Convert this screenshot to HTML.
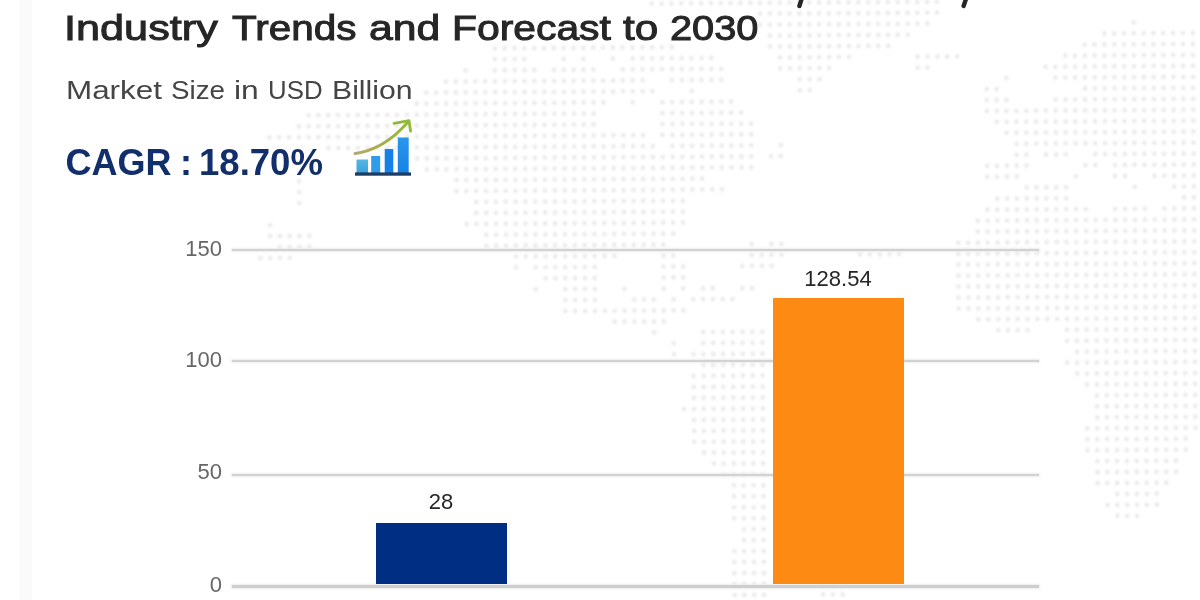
<!DOCTYPE html>
<html><head><meta charset="utf-8">
<style>
html,body{margin:0;padding:0;width:1200px;height:600px;overflow:hidden;background:#fff;}
body{position:relative;font-family:"Liberation Sans",sans-serif;}
#map{position:absolute;left:0;top:0;filter:blur(1px);}
#strip{position:absolute;left:19px;top:0;width:13px;height:600px;background:#fafafa;}
.abs{position:absolute;white-space:nowrap;}
.tw{position:absolute;white-space:nowrap;top:7.6px;font-size:35.6px;color:#262626;-webkit-text-stroke:1px #262626;transform-origin:0 0;}
.sw{position:absolute;white-space:nowrap;top:75px;font-size:26.5px;color:#454545;transform-origin:0 0;}
.cw{position:absolute;white-space:nowrap;top:142px;font-size:36px;font-weight:bold;color:#132f6b;transform-origin:0 0;}
.grid{position:absolute;left:232px;width:807px;height:2px;background:#d2d2d2;box-shadow:0 0 2px 1px #ececec;}
.ylab{position:absolute;width:40px;text-align:right;font-size:22px;color:#666666;}
.bar{position:absolute;}
.dlab{position:absolute;font-size:22px;color:#262626;text-align:center;}
#icon{position:absolute;left:340px;top:110px;}
#desc{position:absolute;left:0;top:0;}
#c{position:absolute;left:0;top:0;width:1200px;height:600px;filter:blur(0.5px);}
</style></head>
<body>
<div id="strip"></div>
<svg id="map" width="1200" height="600" viewBox="0 0 1200 600"><path d="M651.8 3.5h.01M661.7 3.5h.01M671.5 3.4h.01M681.3 3.3h.01M691.2 3.3h.01M701.0 3.2h.01M710.8 3.1h.01M720.7 3.1h.01M730.5 3.0h.01M740.3 3.0h.01M750.2 2.9h.01M760.0 2.8h.01M769.8 2.8h.01M779.6 2.7h.01M789.5 2.6h.01M799.3 2.6h.01M809.1 2.5h.01M819.0 2.5h.01M828.8 2.4h.01M838.6 2.3h.01M848.5 2.3h.01M858.3 2.2h.01M868.1 2.1h.01M877.9 2.1h.01M887.8 2.0h.01M897.6 2.0h.01M907.4 1.9h.01M917.3 1.8h.01M927.1 1.8h.01M936.9 1.7h.01M760.1 13.8h.01M769.9 13.7h.01M779.7 13.7h.01M789.5 13.6h.01M799.4 13.5h.01M809.2 13.5h.01M819.0 13.4h.01M828.9 13.4h.01M838.7 13.3h.01M848.5 13.2h.01M858.4 13.2h.01M868.2 13.1h.01M878.0 13.0h.01M887.9 13.0h.01M897.7 12.9h.01M907.5 12.9h.01M917.3 12.8h.01M927.2 12.7h.01M937.0 12.7h.01M760.1 24.8h.01M770.0 24.7h.01M779.8 24.6h.01M789.6 24.6h.01M799.5 24.5h.01M809.3 24.4h.01M819.1 24.4h.01M828.9 24.3h.01M838.8 24.3h.01M848.6 24.2h.01M858.4 24.1h.01M868.3 24.1h.01M878.1 24.0h.01M887.9 24.0h.01M897.8 23.9h.01M907.6 23.8h.01M917.4 23.8h.01M927.3 23.7h.01M1133.7 22.4h.01M770.0 35.7h.01M779.9 35.6h.01M789.7 35.5h.01M799.5 35.5h.01M809.4 35.4h.01M819.2 35.4h.01M829.0 35.3h.01M838.9 35.2h.01M848.7 35.2h.01M858.5 35.1h.01M868.3 35.0h.01M878.2 35.0h.01M888.0 34.9h.01M897.8 34.9h.01M907.7 34.8h.01M1104.3 33.5h.01M1114.1 33.5h.01M1123.9 33.4h.01M1133.8 33.4h.01M1143.6 33.3h.01M1153.4 33.2h.01M1163.3 33.2h.01M1173.1 33.1h.01M1182.9 33.1h.01M1192.8 33.0h.01M1202.6 32.9h.01M494.9 48.4h.01M504.7 48.3h.01M514.5 48.2h.01M524.4 48.2h.01M534.2 48.1h.01M544.0 48.1h.01M553.8 48.0h.01M563.7 47.9h.01M573.5 47.9h.01M583.3 47.8h.01M593.2 47.7h.01M603.0 47.7h.01M612.8 47.6h.01M622.7 47.6h.01M632.5 47.5h.01M642.3 47.4h.01M652.1 47.4h.01M662.0 47.3h.01M671.8 47.2h.01M770.1 46.6h.01M779.9 46.6h.01M789.8 46.5h.01M799.6 46.4h.01M809.4 46.4h.01M819.3 46.3h.01M829.1 46.3h.01M838.9 46.2h.01M848.8 46.1h.01M858.6 46.1h.01M868.4 46.0h.01M878.2 45.9h.01M888.1 45.9h.01M1084.7 44.6h.01M1094.5 44.6h.01M1104.4 44.5h.01M1114.2 44.5h.01M1124.0 44.4h.01M1133.8 44.3h.01M1143.7 44.3h.01M1153.5 44.2h.01M1163.3 44.1h.01M1173.2 44.1h.01M1183.0 44.0h.01M1192.8 44.0h.01M1202.7 43.9h.01M494.9 59.3h.01M504.8 59.3h.01M514.6 59.2h.01M524.4 59.1h.01M563.7 58.9h.01M583.4 58.8h.01M612.9 58.6h.01M632.6 58.5h.01M642.4 58.4h.01M652.2 58.3h.01M662.1 58.3h.01M671.9 58.2h.01M681.7 58.2h.01M691.5 58.1h.01M701.4 58.0h.01M711.2 58.0h.01M780.0 57.5h.01M789.9 57.5h.01M799.7 57.4h.01M809.5 57.3h.01M819.3 57.3h.01M829.2 57.2h.01M839.0 57.2h.01M848.8 57.1h.01M917.6 56.7h.01M927.5 56.6h.01M937.3 56.5h.01M947.1 56.5h.01M957.0 56.4h.01M1065.1 55.7h.01M1074.9 55.7h.01M1084.8 55.6h.01M1094.6 55.5h.01M1104.4 55.5h.01M1114.3 55.4h.01M1124.1 55.4h.01M1133.9 55.3h.01M1143.7 55.2h.01M1153.6 55.2h.01M1163.4 55.1h.01M1173.2 55.0h.01M1183.1 55.0h.01M1192.9 54.9h.01M1202.7 54.9h.01M465.5 70.5h.01M495.0 70.3h.01M504.8 70.2h.01M514.7 70.2h.01M524.5 70.1h.01M534.3 70.0h.01M554.0 69.9h.01M563.8 69.9h.01M573.7 69.8h.01M583.5 69.7h.01M593.3 69.7h.01M622.8 69.5h.01M632.6 69.4h.01M642.5 69.4h.01M652.3 69.3h.01M662.1 69.2h.01M672.0 69.2h.01M681.8 69.1h.01M691.6 69.1h.01M701.5 69.0h.01M711.3 68.9h.01M721.1 68.9h.01M780.1 68.5h.01M789.9 68.4h.01M799.8 68.4h.01M809.6 68.3h.01M819.4 68.2h.01M829.2 68.2h.01M917.7 67.6h.01M927.6 67.6h.01M1045.5 66.8h.01M1055.3 66.8h.01M1065.2 66.7h.01M1075.0 66.6h.01M1084.8 66.6h.01M1094.7 66.5h.01M1104.5 66.4h.01M1114.3 66.4h.01M1124.2 66.3h.01M1134.0 66.3h.01M1143.8 66.2h.01M1153.7 66.1h.01M1163.5 66.1h.01M1173.3 66.0h.01M1183.1 65.9h.01M1193.0 65.9h.01M1202.8 65.8h.01M445.9 81.6h.01M455.8 81.5h.01M465.6 81.4h.01M475.4 81.4h.01M485.3 81.3h.01M495.1 81.3h.01M504.9 81.2h.01M514.7 81.1h.01M524.6 81.1h.01M534.4 81.0h.01M544.2 80.9h.01M554.1 80.9h.01M563.9 80.8h.01M573.7 80.8h.01M583.6 80.7h.01M593.4 80.6h.01M603.2 80.6h.01M613.1 80.5h.01M622.9 80.5h.01M632.7 80.4h.01M642.5 80.3h.01M672.0 80.1h.01M681.9 80.1h.01M691.7 80.0h.01M701.5 80.0h.01M711.4 79.9h.01M721.2 79.8h.01M799.8 79.3h.01M809.7 79.3h.01M819.5 79.2h.01M1006.3 78.0h.01M1055.4 77.7h.01M1065.3 77.7h.01M1075.1 77.6h.01M1084.9 77.5h.01M1094.7 77.5h.01M1104.6 77.4h.01M1114.4 77.3h.01M1124.2 77.3h.01M1134.1 77.2h.01M1143.9 77.2h.01M1153.7 77.1h.01M1163.6 77.0h.01M1173.4 77.0h.01M1183.2 76.9h.01M1193.1 76.8h.01M1202.9 76.8h.01M426.3 92.7h.01M436.2 92.6h.01M446.0 92.5h.01M455.8 92.5h.01M465.7 92.4h.01M475.5 92.3h.01M485.3 92.3h.01M495.2 92.2h.01M505.0 92.2h.01M514.8 92.1h.01M524.7 92.0h.01M534.5 92.0h.01M544.3 91.9h.01M554.1 91.9h.01M564.0 91.8h.01M573.8 91.7h.01M583.6 91.7h.01M593.5 91.6h.01M603.3 91.5h.01M613.1 91.5h.01M623.0 91.4h.01M632.8 91.4h.01M642.6 91.3h.01M652.4 91.2h.01M691.8 91.0h.01M799.9 90.3h.01M809.7 90.2h.01M986.7 89.1h.01M996.5 89.1h.01M1085.0 88.5h.01M1094.8 88.4h.01M1104.7 88.4h.01M1114.5 88.3h.01M1124.3 88.2h.01M1134.1 88.2h.01M1144.0 88.1h.01M1153.8 88.1h.01M1163.6 88.0h.01M1173.5 87.9h.01M1183.3 87.9h.01M1193.1 87.8h.01M1203.0 87.8h.01M416.6 103.7h.01M426.4 103.6h.01M436.3 103.6h.01M446.1 103.5h.01M455.9 103.4h.01M465.7 103.4h.01M475.6 103.3h.01M485.4 103.3h.01M495.2 103.2h.01M505.1 103.1h.01M514.9 103.1h.01M524.7 103.0h.01M534.6 102.9h.01M544.4 102.9h.01M554.2 102.8h.01M564.0 102.8h.01M573.9 102.7h.01M583.7 102.6h.01M593.5 102.6h.01M603.4 102.5h.01M632.9 102.3h.01M662.4 102.1h.01M672.2 102.1h.01M682.0 102.0h.01M691.8 101.9h.01M701.7 101.9h.01M711.5 101.8h.01M721.3 101.8h.01M731.2 101.7h.01M986.8 100.1h.01M996.6 100.0h.01M1006.4 100.0h.01M1055.6 99.6h.01M1065.4 99.6h.01M1075.2 99.5h.01M1085.1 99.5h.01M1094.9 99.4h.01M1104.7 99.3h.01M1114.6 99.3h.01M1124.4 99.2h.01M1134.2 99.2h.01M1144.0 99.1h.01M1153.9 99.0h.01M1163.7 99.0h.01M1173.5 98.9h.01M1183.4 98.8h.01M1193.2 98.8h.01M308.5 115.3h.01M318.4 115.3h.01M328.2 115.2h.01M338.0 115.1h.01M347.9 115.1h.01M357.7 115.0h.01M367.5 115.0h.01M377.3 114.9h.01M387.2 114.8h.01M397.0 114.8h.01M406.8 114.7h.01M416.7 114.7h.01M426.5 114.6h.01M436.3 114.5h.01M446.2 114.5h.01M456.0 114.4h.01M465.8 114.3h.01M475.7 114.3h.01M485.5 114.2h.01M495.3 114.2h.01M505.1 114.1h.01M515.0 114.0h.01M524.8 114.0h.01M534.6 113.9h.01M544.5 113.8h.01M554.3 113.8h.01M564.1 113.7h.01M574.0 113.7h.01M583.8 113.6h.01M593.6 113.5h.01M662.4 113.1h.01M672.3 113.0h.01M682.1 113.0h.01M691.9 112.9h.01M701.8 112.8h.01M711.6 112.8h.01M721.4 112.7h.01M731.2 112.7h.01M741.1 112.6h.01M986.8 111.0h.01M996.7 111.0h.01M1006.5 110.9h.01M1016.3 110.9h.01M1026.2 110.8h.01M1036.0 110.7h.01M1045.8 110.7h.01M1055.7 110.6h.01M1065.5 110.6h.01M1075.3 110.5h.01M1085.1 110.4h.01M1095.0 110.4h.01M1104.8 110.3h.01M1114.6 110.2h.01M1124.5 110.2h.01M1134.3 110.1h.01M1144.1 110.1h.01M1154.0 110.0h.01M1163.8 109.9h.01M1173.6 109.9h.01M1183.4 109.8h.01M1193.3 109.7h.01M298.8 126.4h.01M308.6 126.3h.01M318.4 126.2h.01M328.3 126.2h.01M338.1 126.1h.01M347.9 126.1h.01M357.8 126.0h.01M367.6 125.9h.01M377.4 125.9h.01M387.3 125.8h.01M397.1 125.7h.01M406.9 125.7h.01M416.7 125.6h.01M426.6 125.6h.01M436.4 125.5h.01M446.2 125.4h.01M456.1 125.4h.01M465.9 125.3h.01M475.7 125.2h.01M485.6 125.2h.01M495.4 125.1h.01M505.2 125.1h.01M515.0 125.0h.01M524.9 124.9h.01M534.7 124.9h.01M544.5 124.8h.01M554.4 124.7h.01M564.2 124.7h.01M574.0 124.6h.01M583.9 124.6h.01M593.7 124.5h.01M662.5 124.1h.01M672.3 124.0h.01M682.2 123.9h.01M692.0 123.9h.01M701.8 123.8h.01M711.7 123.8h.01M721.5 123.7h.01M731.3 123.6h.01M741.1 123.6h.01M751.0 123.5h.01M996.7 121.9h.01M1006.6 121.9h.01M1016.4 121.8h.01M1026.2 121.8h.01M1036.1 121.7h.01M1045.9 121.6h.01M1055.7 121.6h.01M1065.6 121.5h.01M1075.4 121.5h.01M1085.2 121.4h.01M1095.0 121.3h.01M1104.9 121.3h.01M1114.7 121.2h.01M1124.5 121.1h.01M1134.4 121.1h.01M1144.2 121.0h.01M1154.0 121.0h.01M1163.9 120.9h.01M1173.7 120.8h.01M1183.5 120.8h.01M1193.4 120.7h.01M269.4 137.5h.01M279.2 137.4h.01M289.0 137.4h.01M298.9 137.3h.01M308.7 137.3h.01M318.5 137.2h.01M328.3 137.1h.01M338.2 137.1h.01M348.0 137.0h.01M357.8 137.0h.01M367.7 136.9h.01M377.5 136.8h.01M387.3 136.8h.01M397.2 136.7h.01M407.0 136.6h.01M416.8 136.6h.01M426.6 136.5h.01M436.5 136.5h.01M446.3 136.4h.01M456.1 136.3h.01M466.0 136.3h.01M475.8 136.2h.01M485.6 136.1h.01M495.5 136.1h.01M505.3 136.0h.01M515.1 136.0h.01M525.0 135.9h.01M534.8 135.8h.01M544.6 135.8h.01M554.4 135.7h.01M564.3 135.6h.01M574.1 135.6h.01M583.9 135.5h.01M593.8 135.5h.01M603.6 135.4h.01M613.4 135.3h.01M623.3 135.3h.01M633.1 135.2h.01M642.9 135.2h.01M662.6 135.0h.01M672.4 135.0h.01M682.2 134.9h.01M692.1 134.8h.01M701.9 134.8h.01M711.7 134.7h.01M721.6 134.7h.01M731.4 134.6h.01M741.2 134.5h.01M751.1 134.5h.01M1006.6 132.9h.01M1016.5 132.8h.01M1026.3 132.7h.01M1036.1 132.7h.01M1046.0 132.6h.01M1055.8 132.5h.01M1065.6 132.5h.01M1075.5 132.4h.01M1085.3 132.4h.01M1095.1 132.3h.01M1105.0 132.2h.01M1114.8 132.2h.01M1124.6 132.1h.01M1134.4 132.0h.01M1144.3 132.0h.01M1154.1 131.9h.01M1163.9 131.9h.01M1173.8 131.8h.01M1183.6 131.7h.01M1193.4 131.7h.01M328.4 148.1h.01M338.2 148.0h.01M348.1 148.0h.01M357.9 147.9h.01M367.7 147.9h.01M377.6 147.8h.01M387.4 147.7h.01M397.2 147.7h.01M407.1 147.6h.01M416.9 147.5h.01M426.7 147.5h.01M436.6 147.4h.01M446.4 147.4h.01M456.2 147.3h.01M466.0 147.2h.01M475.9 147.2h.01M485.7 147.1h.01M495.5 147.0h.01M505.4 147.0h.01M515.2 146.9h.01M525.0 146.9h.01M534.9 146.8h.01M544.7 146.7h.01M554.5 146.7h.01M564.4 146.6h.01M574.2 146.6h.01M584.0 146.5h.01M593.8 146.4h.01M603.7 146.4h.01M613.5 146.3h.01M623.3 146.2h.01M633.2 146.2h.01M643.0 146.1h.01M652.8 146.1h.01M672.5 145.9h.01M682.3 145.9h.01M692.1 145.8h.01M702.0 145.7h.01M711.8 145.7h.01M721.6 145.6h.01M731.5 145.6h.01M741.3 145.5h.01M751.1 145.4h.01M780.6 145.2h.01M1016.6 143.8h.01M1026.4 143.7h.01M1036.2 143.6h.01M1046.0 143.6h.01M1055.9 143.5h.01M1065.7 143.4h.01M1075.5 143.4h.01M1085.4 143.3h.01M1095.2 143.3h.01M1105.0 143.2h.01M1114.9 143.1h.01M1124.7 143.1h.01M1134.5 143.0h.01M1144.4 142.9h.01M1154.2 142.9h.01M1164.0 142.8h.01M1173.8 142.8h.01M1183.7 142.7h.01M1193.5 142.6h.01M417.0 158.5h.01M426.8 158.4h.01M436.6 158.4h.01M446.5 158.3h.01M456.3 158.3h.01M466.1 158.2h.01M476.0 158.1h.01M485.8 158.1h.01M495.6 158.0h.01M505.4 157.9h.01M515.3 157.9h.01M525.1 157.8h.01M534.9 157.8h.01M544.8 157.7h.01M554.6 157.6h.01M564.4 157.6h.01M574.3 157.5h.01M584.1 157.5h.01M593.9 157.4h.01M603.7 157.3h.01M613.6 157.3h.01M623.4 157.2h.01M633.2 157.1h.01M643.1 157.1h.01M652.9 157.0h.01M662.7 157.0h.01M672.6 156.9h.01M682.4 156.8h.01M692.2 156.8h.01M702.1 156.7h.01M711.9 156.6h.01M721.7 156.6h.01M731.5 156.5h.01M741.4 156.5h.01M751.2 156.4h.01M770.9 156.3h.01M780.7 156.2h.01M1016.6 154.7h.01M1026.5 154.7h.01M1046.1 154.5h.01M1056.0 154.5h.01M1065.8 154.4h.01M1095.3 154.2h.01M1105.1 154.2h.01M1114.9 154.1h.01M1124.8 154.0h.01M1134.6 154.0h.01M1144.4 153.9h.01M1154.3 153.8h.01M1164.1 153.8h.01M1173.9 153.7h.01M1183.7 153.7h.01M1193.6 153.6h.01M426.9 169.4h.01M436.7 169.3h.01M446.5 169.3h.01M456.4 169.2h.01M466.2 169.2h.01M476.0 169.1h.01M485.9 169.0h.01M495.7 169.0h.01M505.5 168.9h.01M515.3 168.9h.01M525.2 168.8h.01M535.0 168.7h.01M544.8 168.7h.01M554.7 168.6h.01M564.5 168.5h.01M574.3 168.5h.01M584.2 168.4h.01M594.0 168.4h.01M603.8 168.3h.01M613.7 168.2h.01M623.5 168.2h.01M633.3 168.1h.01M643.1 168.0h.01M653.0 168.0h.01M662.8 167.9h.01M672.6 167.9h.01M682.5 167.8h.01M692.3 167.7h.01M702.1 167.7h.01M712.0 167.6h.01M721.8 167.5h.01M731.6 167.5h.01M741.5 167.4h.01M751.3 167.4h.01M987.2 165.9h.01M997.0 165.8h.01M1006.9 165.7h.01M1016.7 165.7h.01M1026.5 165.6h.01M1085.5 165.2h.01M1095.3 165.2h.01M1115.0 165.1h.01M1124.8 165.0h.01M1134.7 164.9h.01M1144.5 164.9h.01M1154.3 164.8h.01M1164.2 164.8h.01M1174.0 164.7h.01M1183.8 164.6h.01M1193.7 164.6h.01M299.2 181.2h.01M456.4 180.2h.01M466.3 180.1h.01M476.1 180.1h.01M485.9 180.0h.01M495.8 179.9h.01M505.6 179.9h.01M515.4 179.8h.01M525.3 179.8h.01M535.1 179.7h.01M544.9 179.6h.01M554.7 179.6h.01M564.6 179.5h.01M574.4 179.4h.01M584.2 179.4h.01M594.1 179.3h.01M603.9 179.3h.01M613.7 179.2h.01M623.6 179.1h.01M633.4 179.1h.01M643.2 179.0h.01M653.1 178.9h.01M662.9 178.9h.01M672.7 178.8h.01M682.5 178.8h.01M692.4 178.7h.01M702.2 178.6h.01M987.3 176.8h.01M997.1 176.8h.01M1006.9 176.7h.01M1016.8 176.6h.01M1075.8 176.3h.01M1115.1 176.0h.01M1124.9 176.0h.01M1154.4 175.8h.01M1164.2 175.7h.01M1174.1 175.7h.01M1183.9 175.6h.01M1193.7 175.5h.01M299.2 192.1h.01M456.5 191.2h.01M466.3 191.1h.01M476.2 191.0h.01M486.0 191.0h.01M495.8 190.9h.01M505.7 190.8h.01M515.5 190.8h.01M525.3 190.7h.01M535.2 190.7h.01M545.0 190.6h.01M554.8 190.5h.01M564.7 190.5h.01M574.5 190.4h.01M584.3 190.3h.01M594.1 190.3h.01M604.0 190.2h.01M613.8 190.2h.01M623.6 190.1h.01M633.5 190.0h.01M643.3 190.0h.01M653.1 189.9h.01M663.0 189.8h.01M672.8 189.8h.01M682.6 189.7h.01M692.4 189.7h.01M702.3 189.6h.01M712.1 189.5h.01M721.9 189.5h.01M1026.7 187.6h.01M1036.5 187.5h.01M1046.3 187.4h.01M1056.2 187.4h.01M1066.0 187.3h.01M1134.8 186.9h.01M1174.1 186.6h.01M1184.0 186.6h.01M1193.8 186.5h.01M299.3 203.1h.01M476.3 202.0h.01M486.1 201.9h.01M495.9 201.9h.01M505.7 201.8h.01M515.6 201.7h.01M525.4 201.7h.01M535.2 201.6h.01M545.1 201.6h.01M554.9 201.5h.01M564.7 201.4h.01M574.6 201.4h.01M584.4 201.3h.01M594.2 201.2h.01M604.0 201.2h.01M613.9 201.1h.01M623.7 201.1h.01M633.5 201.0h.01M643.4 200.9h.01M653.2 200.9h.01M663.0 200.8h.01M672.9 200.8h.01M682.7 200.7h.01M997.3 198.7h.01M1007.1 198.6h.01M1016.9 198.6h.01M1026.8 198.5h.01M1036.6 198.5h.01M1046.4 198.4h.01M1056.3 198.3h.01M1066.1 198.3h.01M1184.0 197.5h.01M1193.9 197.5h.01M476.3 213.0h.01M486.2 212.9h.01M496.0 212.8h.01M505.8 212.8h.01M515.6 212.7h.01M525.5 212.6h.01M535.3 212.6h.01M545.1 212.5h.01M555.0 212.5h.01M564.8 212.4h.01M574.6 212.3h.01M584.5 212.3h.01M594.3 212.2h.01M604.1 212.2h.01M614.0 212.1h.01M623.8 212.0h.01M633.6 212.0h.01M643.4 211.9h.01M653.3 211.8h.01M663.1 211.8h.01M672.9 211.7h.01M682.8 211.7h.01M987.5 209.7h.01M997.3 209.7h.01M1007.2 209.6h.01M1017.0 209.5h.01M1026.8 209.5h.01M1036.7 209.4h.01M1046.5 209.4h.01M1056.3 209.3h.01M1066.2 209.2h.01M1076.0 209.2h.01M1085.8 209.1h.01M1115.3 208.9h.01M1125.1 208.9h.01M1135.0 208.8h.01M1144.8 208.7h.01M1164.5 208.6h.01M1174.3 208.5h.01M1184.1 208.5h.01M1194.0 208.4h.01M270.0 225.2h.01M466.6 224.0h.01M476.4 223.9h.01M486.2 223.9h.01M496.1 223.8h.01M505.9 223.7h.01M515.7 223.7h.01M525.6 223.6h.01M535.4 223.6h.01M545.2 223.5h.01M555.0 223.4h.01M564.9 223.4h.01M574.7 223.3h.01M584.5 223.2h.01M594.4 223.2h.01M604.2 223.1h.01M614.0 223.1h.01M623.9 223.0h.01M633.7 222.9h.01M643.5 222.9h.01M653.4 222.8h.01M663.2 222.7h.01M673.0 222.7h.01M682.8 222.6h.01M977.8 220.8h.01M987.6 220.7h.01M997.4 220.6h.01M1007.2 220.6h.01M1017.1 220.5h.01M1026.9 220.4h.01M1036.7 220.4h.01M1046.6 220.3h.01M1056.4 220.3h.01M1066.2 220.2h.01M1076.1 220.1h.01M1085.9 220.1h.01M1095.7 220.0h.01M1105.6 219.9h.01M1115.4 219.9h.01M1125.2 219.8h.01M1135.0 219.8h.01M1144.9 219.7h.01M1154.7 219.6h.01M1164.5 219.6h.01M1174.4 219.5h.01M1184.2 219.4h.01M1194.0 219.4h.01M270.0 236.2h.01M279.9 236.1h.01M289.7 236.1h.01M299.5 236.0h.01M309.4 235.9h.01M486.3 234.8h.01M496.1 234.8h.01M506.0 234.7h.01M515.8 234.6h.01M525.6 234.6h.01M535.5 234.5h.01M545.3 234.5h.01M555.1 234.4h.01M565.0 234.3h.01M574.8 234.3h.01M584.6 234.2h.01M594.4 234.1h.01M604.3 234.1h.01M614.1 234.0h.01M623.9 234.0h.01M633.8 233.9h.01M643.6 233.8h.01M653.4 233.8h.01M663.3 233.7h.01M673.1 233.6h.01M977.8 231.7h.01M987.7 231.7h.01M997.5 231.6h.01M1007.3 231.5h.01M1017.2 231.5h.01M1027.0 231.4h.01M1036.8 231.3h.01M1046.6 231.3h.01M1056.5 231.2h.01M1066.3 231.2h.01M1076.1 231.1h.01M1086.0 231.0h.01M1095.8 231.0h.01M1105.6 230.9h.01M1115.5 230.8h.01M1125.3 230.8h.01M1135.1 230.7h.01M1145.0 230.7h.01M1154.8 230.6h.01M1164.6 230.5h.01M1174.4 230.5h.01M1184.3 230.4h.01M1194.1 230.4h.01M279.9 247.1h.01M289.8 247.0h.01M299.6 247.0h.01M309.4 246.9h.01M486.4 245.8h.01M496.2 245.7h.01M506.0 245.7h.01M515.9 245.6h.01M525.7 245.5h.01M535.5 245.5h.01M545.4 245.4h.01M555.2 245.4h.01M565.0 245.3h.01M574.9 245.2h.01M584.7 245.2h.01M594.5 245.1h.01M604.3 245.0h.01M614.2 245.0h.01M624.0 244.9h.01M633.8 244.9h.01M643.7 244.8h.01M653.5 244.7h.01M663.3 244.7h.01M751.8 244.1h.01M771.5 244.0h.01M781.3 243.9h.01M958.2 242.8h.01M968.1 242.7h.01M977.9 242.7h.01M987.7 242.6h.01M997.6 242.6h.01M1007.4 242.5h.01M1017.2 242.4h.01M1027.1 242.4h.01M1036.9 242.3h.01M1046.7 242.2h.01M1056.6 242.2h.01M1066.4 242.1h.01M1076.2 242.1h.01M1086.0 242.0h.01M1095.9 241.9h.01M1105.7 241.9h.01M1115.5 241.8h.01M1125.4 241.8h.01M1135.2 241.7h.01M1145.0 241.6h.01M1154.9 241.6h.01M1164.7 241.5h.01M1174.5 241.4h.01M1184.3 241.4h.01M1194.2 241.3h.01M260.4 258.2h.01M270.2 258.1h.01M280.0 258.1h.01M289.8 258.0h.01M516.0 256.6h.01M525.8 256.5h.01M535.6 256.4h.01M545.4 256.4h.01M555.3 256.3h.01M565.1 256.3h.01M574.9 256.2h.01M584.8 256.1h.01M594.6 256.1h.01M604.4 256.0h.01M614.3 255.9h.01M663.4 255.6h.01M673.2 255.6h.01M751.9 255.1h.01M761.7 255.0h.01M771.5 255.0h.01M781.4 254.9h.01M860.0 254.4h.01M869.8 254.3h.01M879.7 254.3h.01M889.5 254.2h.01M899.3 254.1h.01M958.3 253.8h.01M968.2 253.7h.01M978.0 253.6h.01M987.8 253.6h.01M997.6 253.5h.01M1007.5 253.5h.01M1017.3 253.4h.01M1027.1 253.3h.01M1037.0 253.3h.01M1046.8 253.2h.01M1056.6 253.2h.01M1066.5 253.1h.01M1076.3 253.0h.01M1086.1 253.0h.01M1096.0 252.9h.01M1105.8 252.8h.01M1115.6 252.8h.01M1125.4 252.7h.01M1135.3 252.7h.01M1145.1 252.6h.01M1154.9 252.5h.01M1164.8 252.5h.01M1174.6 252.4h.01M1184.4 252.3h.01M1194.3 252.3h.01M516.0 267.5h.01M535.7 267.4h.01M545.5 267.3h.01M555.3 267.3h.01M565.2 267.2h.01M575.0 267.2h.01M584.8 267.1h.01M594.7 267.0h.01M663.5 266.6h.01M673.3 266.5h.01M683.1 266.5h.01M742.1 266.1h.01M752.0 266.0h.01M761.8 266.0h.01M771.6 265.9h.01M958.4 264.7h.01M968.2 264.7h.01M978.1 264.6h.01M987.9 264.6h.01M997.7 264.5h.01M1007.6 264.4h.01M1017.4 264.4h.01M1027.2 264.3h.01M1037.0 264.2h.01M1046.9 264.2h.01M1056.7 264.1h.01M1066.5 264.1h.01M1076.4 264.0h.01M1086.2 263.9h.01M1096.0 263.9h.01M1105.9 263.8h.01M1115.7 263.7h.01M1125.5 263.7h.01M1135.3 263.6h.01M1145.2 263.6h.01M1155.0 263.5h.01M1164.8 263.4h.01M1174.7 263.4h.01M1184.5 263.3h.01M1194.3 263.2h.01M545.6 278.3h.01M555.4 278.2h.01M565.3 278.2h.01M575.1 278.1h.01M584.9 278.1h.01M594.7 278.0h.01M663.6 277.6h.01M673.4 277.5h.01M683.2 277.4h.01M958.5 275.7h.01M968.3 275.6h.01M978.1 275.6h.01M988.0 275.5h.01M997.8 275.5h.01M1007.6 275.4h.01M1017.5 275.3h.01M1027.3 275.3h.01M1037.1 275.2h.01M1046.9 275.1h.01M1056.8 275.1h.01M1066.6 275.0h.01M1076.4 275.0h.01M1086.3 274.9h.01M1096.1 274.8h.01M1105.9 274.8h.01M1115.8 274.7h.01M1125.6 274.6h.01M1135.4 274.6h.01M1145.3 274.5h.01M1155.1 274.5h.01M1164.9 274.4h.01M1174.7 274.3h.01M1184.6 274.3h.01M1194.4 274.2h.01M535.8 289.3h.01M565.3 289.2h.01M575.2 289.1h.01M585.0 289.0h.01M594.8 289.0h.01M624.3 288.8h.01M663.6 288.5h.01M683.3 288.4h.01M703.0 288.3h.01M712.8 288.2h.01M742.3 288.0h.01M752.1 288.0h.01M958.5 286.7h.01M968.4 286.6h.01M978.2 286.5h.01M988.0 286.5h.01M997.9 286.4h.01M1007.7 286.4h.01M1017.5 286.3h.01M1027.4 286.2h.01M1037.2 286.2h.01M1047.0 286.1h.01M1056.9 286.0h.01M1066.7 286.0h.01M1076.5 285.9h.01M1086.3 285.9h.01M1096.2 285.8h.01M1106.0 285.7h.01M1115.8 285.7h.01M1125.7 285.6h.01M1135.5 285.5h.01M1145.3 285.5h.01M1155.2 285.4h.01M1165.0 285.4h.01M1174.8 285.3h.01M1184.7 285.2h.01M1194.5 285.2h.01M565.4 300.1h.01M575.2 300.1h.01M585.1 300.0h.01M594.9 299.9h.01M634.2 299.7h.01M644.0 299.6h.01M653.9 299.6h.01M673.5 299.4h.01M693.2 299.3h.01M703.0 299.2h.01M712.9 299.2h.01M722.7 299.1h.01M732.5 299.1h.01M958.6 297.6h.01M968.5 297.6h.01M978.3 297.5h.01M988.1 297.4h.01M997.9 297.4h.01M1007.8 297.3h.01M1017.6 297.3h.01M1027.4 297.2h.01M1037.3 297.1h.01M1047.1 297.1h.01M1056.9 297.0h.01M1066.8 296.9h.01M1076.6 296.9h.01M1086.4 296.8h.01M1096.3 296.8h.01M1106.1 296.7h.01M1115.9 296.6h.01M1125.7 296.6h.01M1135.6 296.5h.01M1145.4 296.5h.01M1155.2 296.4h.01M1165.1 296.3h.01M1174.9 296.3h.01M1184.7 296.2h.01M1194.6 296.1h.01M565.5 311.1h.01M575.3 311.0h.01M585.1 311.0h.01M595.0 310.9h.01M604.8 310.8h.01M614.6 310.8h.01M624.5 310.7h.01M634.3 310.6h.01M644.1 310.6h.01M654.0 310.5h.01M663.8 310.5h.01M673.6 310.4h.01M683.4 310.3h.01M958.7 308.6h.01M968.5 308.5h.01M978.4 308.5h.01M988.2 308.4h.01M998.0 308.3h.01M1007.9 308.3h.01M1017.7 308.2h.01M1027.5 308.2h.01M1037.3 308.1h.01M1047.2 308.0h.01M1057.0 308.0h.01M1066.8 307.9h.01M1076.7 307.8h.01M1086.5 307.8h.01M1096.3 307.7h.01M1106.2 307.7h.01M1116.0 307.6h.01M1125.8 307.5h.01M1135.6 307.5h.01M1145.5 307.4h.01M1155.3 307.4h.01M1165.1 307.3h.01M1175.0 307.2h.01M1184.8 307.2h.01M1194.6 307.1h.01M614.7 321.7h.01M624.5 321.7h.01M634.4 321.6h.01M644.2 321.5h.01M654.0 321.5h.01M663.9 321.4h.01M978.4 319.4h.01M988.3 319.4h.01M998.1 319.3h.01M1007.9 319.2h.01M1017.8 319.2h.01M1027.6 319.1h.01M1037.4 319.1h.01M1047.2 319.0h.01M1057.1 318.9h.01M1066.9 318.9h.01M1076.7 318.8h.01M1086.6 318.8h.01M1096.4 318.7h.01M1106.2 318.6h.01M1116.1 318.6h.01M1125.9 318.5h.01M1135.7 318.4h.01M1145.6 318.4h.01M1155.4 318.3h.01M1165.2 318.3h.01M1175.0 318.2h.01M1184.9 318.1h.01M1194.7 318.1h.01M654.1 332.5h.01M703.3 332.1h.01M713.1 332.1h.01M722.9 332.0h.01M732.7 332.0h.01M742.6 331.9h.01M752.4 331.8h.01M762.2 331.8h.01M998.2 330.3h.01M1008.0 330.2h.01M1017.8 330.2h.01M1027.7 330.1h.01M1067.0 329.8h.01M1076.8 329.8h.01M1086.6 329.7h.01M1096.5 329.7h.01M1106.3 329.6h.01M1116.1 329.5h.01M1126.0 329.5h.01M1135.8 329.4h.01M1145.6 329.3h.01M1155.5 329.3h.01M1165.3 329.2h.01M1175.1 329.2h.01M1185.0 329.1h.01M1194.8 329.0h.01M673.8 343.3h.01M703.3 343.1h.01M713.2 343.0h.01M723.0 343.0h.01M732.8 342.9h.01M742.7 342.9h.01M752.5 342.8h.01M762.3 342.7h.01M1067.1 340.8h.01M1076.9 340.7h.01M1086.7 340.7h.01M1096.6 340.6h.01M1106.4 340.6h.01M1116.2 340.5h.01M1126.0 340.4h.01M1135.9 340.4h.01M1145.7 340.3h.01M1155.5 340.2h.01M1165.4 340.2h.01M1175.2 340.1h.01M1185.0 340.1h.01M1194.9 340.0h.01M673.9 354.3h.01M693.6 354.1h.01M703.4 354.1h.01M713.2 354.0h.01M723.1 353.9h.01M732.9 353.9h.01M742.7 353.8h.01M752.6 353.8h.01M762.4 353.7h.01M1077.0 351.7h.01M1086.8 351.6h.01M1096.6 351.6h.01M1106.5 351.5h.01M1116.3 351.5h.01M1126.1 351.4h.01M1135.9 351.3h.01M1145.8 351.3h.01M1155.6 351.2h.01M1165.4 351.1h.01M1175.3 351.1h.01M1185.1 351.0h.01M1194.9 351.0h.01M703.5 365.0h.01M713.3 365.0h.01M723.1 364.9h.01M733.0 364.8h.01M742.8 364.8h.01M752.6 364.7h.01M762.5 364.7h.01M1067.2 362.7h.01M1077.0 362.7h.01M1086.9 362.6h.01M1096.7 362.5h.01M1106.5 362.5h.01M1116.4 362.4h.01M1126.2 362.4h.01M1136.0 362.3h.01M1145.9 362.2h.01M1155.7 362.2h.01M1165.5 362.1h.01M1175.3 362.1h.01M1185.2 362.0h.01M1195.0 361.9h.01M693.7 376.1h.01M703.6 376.0h.01M713.4 375.9h.01M723.2 375.9h.01M733.0 375.8h.01M742.9 375.7h.01M752.7 375.7h.01M762.5 375.6h.01M1077.1 373.6h.01M1086.9 373.6h.01M1096.8 373.5h.01M1106.6 373.5h.01M1116.4 373.4h.01M1126.3 373.3h.01M1136.1 373.3h.01M1145.9 373.2h.01M1155.8 373.1h.01M1165.6 373.1h.01M1175.4 373.0h.01M1185.3 373.0h.01M1195.1 372.9h.01M693.8 387.0h.01M703.6 387.0h.01M713.5 386.9h.01M723.3 386.8h.01M733.1 386.8h.01M743.0 386.7h.01M752.8 386.7h.01M762.6 386.6h.01M1087.0 384.5h.01M1096.9 384.5h.01M1106.7 384.4h.01M1116.5 384.4h.01M1126.3 384.3h.01M1136.2 384.2h.01M1146.0 384.2h.01M1155.8 384.1h.01M1165.7 384.0h.01M1175.5 384.0h.01M1185.3 383.9h.01M1195.2 383.9h.01M693.9 398.0h.01M703.7 397.9h.01M713.5 397.9h.01M723.4 397.8h.01M733.2 397.7h.01M743.0 397.7h.01M752.9 397.6h.01M762.7 397.6h.01M1096.9 395.4h.01M1106.8 395.4h.01M1116.6 395.3h.01M1126.4 395.3h.01M1136.2 395.2h.01M1146.1 395.1h.01M1155.9 395.1h.01M1165.7 395.0h.01M1175.6 394.9h.01M1185.4 394.9h.01M1195.2 394.8h.01M684.1 409.0h.01M694.0 409.0h.01M703.8 408.9h.01M713.6 408.8h.01M723.4 408.8h.01M733.3 408.7h.01M743.1 408.6h.01M752.9 408.6h.01M762.8 408.5h.01M1097.0 406.4h.01M1106.8 406.3h.01M1116.7 406.3h.01M1126.5 406.2h.01M1136.3 406.2h.01M1146.2 406.1h.01M1156.0 406.0h.01M1165.8 406.0h.01M1175.6 405.9h.01M1185.5 405.8h.01M1195.3 405.8h.01M694.0 419.9h.01M703.9 419.9h.01M713.7 419.8h.01M723.5 419.7h.01M733.3 419.7h.01M743.2 419.6h.01M753.0 419.5h.01M762.8 419.5h.01M1097.1 417.4h.01M1106.9 417.3h.01M1116.7 417.2h.01M1126.6 417.2h.01M1136.4 417.1h.01M1146.2 417.1h.01M1156.1 417.0h.01M1165.9 416.9h.01M1175.7 416.9h.01M1185.6 416.8h.01M1195.4 416.7h.01M694.1 430.9h.01M703.9 430.8h.01M713.8 430.8h.01M723.6 430.7h.01M733.4 430.6h.01M743.3 430.6h.01M753.1 430.5h.01M762.9 430.4h.01M1087.3 428.4h.01M1097.2 428.3h.01M1107.0 428.3h.01M1116.8 428.2h.01M1126.6 428.1h.01M1136.5 428.1h.01M1146.3 428.0h.01M1156.1 428.0h.01M1166.0 427.9h.01M1175.8 427.8h.01M1185.6 427.8h.01M1195.5 427.7h.01M694.2 441.8h.01M704.0 441.8h.01M713.8 441.7h.01M723.7 441.7h.01M733.5 441.6h.01M743.3 441.5h.01M753.2 441.5h.01M763.0 441.4h.01M1087.4 439.4h.01M1097.2 439.3h.01M1107.1 439.2h.01M1116.9 439.2h.01M1126.7 439.1h.01M1136.6 439.1h.01M1146.4 439.0h.01M1156.2 438.9h.01M1166.0 438.9h.01M1175.9 438.8h.01M1185.7 438.7h.01M704.1 452.7h.01M713.9 452.7h.01M723.7 452.6h.01M733.6 452.6h.01M743.4 452.5h.01M753.2 452.4h.01M763.1 452.4h.01M1087.5 450.3h.01M1097.3 450.3h.01M1107.1 450.2h.01M1117.0 450.1h.01M1126.8 450.1h.01M1136.6 450.0h.01M1146.5 450.0h.01M1156.3 449.9h.01M1166.1 449.8h.01M1175.9 449.8h.01M1185.8 449.7h.01M714.0 463.7h.01M723.8 463.6h.01M733.7 463.5h.01M743.5 463.5h.01M753.3 463.4h.01M763.1 463.3h.01M1097.4 461.2h.01M1107.2 461.2h.01M1117.0 461.1h.01M1126.9 461.0h.01M1136.7 461.0h.01M1146.5 460.9h.01M1156.4 460.9h.01M1166.2 460.8h.01M1176.0 460.7h.01M723.9 474.6h.01M733.7 474.5h.01M743.6 474.4h.01M753.4 474.4h.01M763.2 474.3h.01M1097.5 472.2h.01M1107.3 472.1h.01M1117.1 472.1h.01M1126.9 472.0h.01M1136.8 471.9h.01M1146.6 471.9h.01M1156.4 471.8h.01M1166.3 471.8h.01M1176.1 471.7h.01M733.8 485.5h.01M743.6 485.4h.01M753.5 485.3h.01M763.3 485.3h.01M1097.5 483.2h.01M1107.4 483.1h.01M1117.2 483.0h.01M1127.0 483.0h.01M1136.9 482.9h.01M1146.7 482.8h.01M1156.5 482.8h.01M1166.3 482.7h.01M733.9 496.4h.01M743.7 496.4h.01M753.5 496.3h.01M763.4 496.2h.01M1117.3 494.0h.01M1127.1 493.9h.01M1136.9 493.9h.01M1146.8 493.8h.01M1156.6 493.7h.01M734.0 507.4h.01M743.8 507.3h.01M753.6 507.3h.01M763.4 507.2h.01M1107.5 505.0h.01M1117.3 505.0h.01M1127.2 504.9h.01M1137.0 504.8h.01M1146.8 504.8h.01M1156.7 504.7h.01M734.0 518.3h.01M743.9 518.3h.01M753.7 518.2h.01M763.5 518.2h.01M1117.4 515.9h.01M1127.2 515.9h.01M1137.1 515.8h.01M743.9 529.3h.01M753.8 529.2h.01M763.6 529.1h.01M744.0 540.2h.01M753.8 540.2h.01M763.7 540.1h.01M734.3 551.2h.01M744.1 551.2h.01M753.9 551.1h.01M763.7 551.1h.01M734.3 562.2h.01M744.2 562.1h.01M754.0 562.1h.01M763.8 562.0h.01M734.4 573.2h.01M744.2 573.1h.01M754.1 573.0h.01M763.9 573.0h.01M734.5 584.1h.01M744.3 584.1h.01M754.1 584.0h.01M764.0 584.0h.01M734.6 595.1h.01M744.4 595.0h.01M754.2 595.0h.01M764.0 594.9h.01M823.0 594.5h.01M832.9 594.5h.01M842.7 594.4h.01" stroke="#ebebeb" stroke-width="4.8" stroke-linecap="round" fill="none"/></svg>
<div id="c">
<svg id="desc" width="1200" height="12" viewBox="0 0 1200 12"><path d="M801.6 -1 L799.4 6 M966 -1 L963.6 6" stroke="#262626" stroke-width="4.4" stroke-linecap="round"/></svg>
<div class="tw" style="left:64.35px;transform:scaleX(1.215)">Industry</div>
<div class="tw" style="left:232.2px;transform:scaleX(1.138)">Trends</div>
<div class="tw" style="left:368.7px;transform:scaleX(1.199)">and</div>
<div class="tw" style="left:451.95px;transform:scaleX(1.148)">Forecast</div>
<div class="tw" style="left:623.4px;transform:scaleX(1.186)">to</div>
<div class="tw" style="left:670.2px;transform:scaleX(1.118)">2030</div>
<div class="sw" style="left:66.0px;transform:scaleX(1.185)">Market</div>
<div class="sw" style="left:171.3px;transform:scaleX(1.048)">Size</div>
<div class="sw" style="left:233.7px;transform:scaleX(1.2)">in</div>
<div class="sw" style="left:267.55px;transform:scaleX(0.975)">USD</div>
<div class="sw" style="left:331.8px;transform:scaleX(1.14)">Billion</div>
<div class="cw" style="left:65.5px;transform:scaleX(1.0)">CAGR</div>
<div class="cw" style="left:180.1px;transform:scaleX(1.0)">:</div>
<div class="cw" style="left:199px;transform:scaleX(1.015)">18.70%</div>

<svg id="icon" width="80" height="80" viewBox="340 110 80 80">
<defs>
<linearGradient id="ag" x1="355" y1="0" x2="410" y2="0" gradientUnits="userSpaceOnUse"><stop offset="0" stop-color="#b9a56e"/><stop offset="0.45" stop-color="#a8ae48"/><stop offset="1" stop-color="#8fba36"/></linearGradient>
<linearGradient id="b1" x1="0" y1="158" x2="0" y2="173" gradientUnits="userSpaceOnUse"><stop offset="0" stop-color="#5ab9e6"/><stop offset="1" stop-color="#3aa2db"/></linearGradient>
<linearGradient id="b4" x1="0" y1="137" x2="0" y2="173" gradientUnits="userSpaceOnUse"><stop offset="0" stop-color="#2a96ec"/><stop offset="1" stop-color="#1784e4"/></linearGradient>
</defs>
<rect x="356.5" y="159.5" width="11.5" height="13.5" fill="url(#b1)"/>
<rect x="371.2" y="156" width="9" height="17" fill="#2f9ce9"/>
<rect x="384.7" y="149" width="8.6" height="24" fill="#1482e8"/>
<rect x="397.8" y="137.5" width="10.9" height="35.5" fill="url(#b4)"/>
<rect x="355" y="172.4" width="56" height="3.3" fill="#1d3d63"/>
<path d="M355 153.5 Q384 149.5 407 123" stroke="url(#ag)" stroke-width="2.8" fill="none" stroke-linecap="round"/>
<path d="M394 123.3 L409 120.6 L410.6 131.2" stroke="#90b936" stroke-width="2.8" fill="none" stroke-linejoin="round" stroke-linecap="round"/>
</svg>

<div class="grid" style="top:249px"></div>
<div class="grid" style="top:360px"></div>
<div class="grid" style="top:474px"></div>
<div class="grid" style="top:585px;height:3px;background:#cecece"></div>
<div class="ylab" style="left:182px;top:236px">150</div>
<div class="ylab" style="left:182px;top:347px">100</div>
<div class="ylab" style="left:182px;top:459px">50</div>
<div class="ylab" style="left:182px;top:572px">0</div>

<div class="bar" style="left:375.5px;top:522.5px;width:131px;height:61px;background:#002e82"></div>
<div class="bar" style="left:772.5px;top:298px;width:131.5px;height:286px;background:#fd8a12"></div>
<div class="dlab" style="left:375px;width:132px;top:489px">28</div>
<div class="dlab" style="left:772px;width:132px;top:266px">128.54</div>
</div>
</body></html>
